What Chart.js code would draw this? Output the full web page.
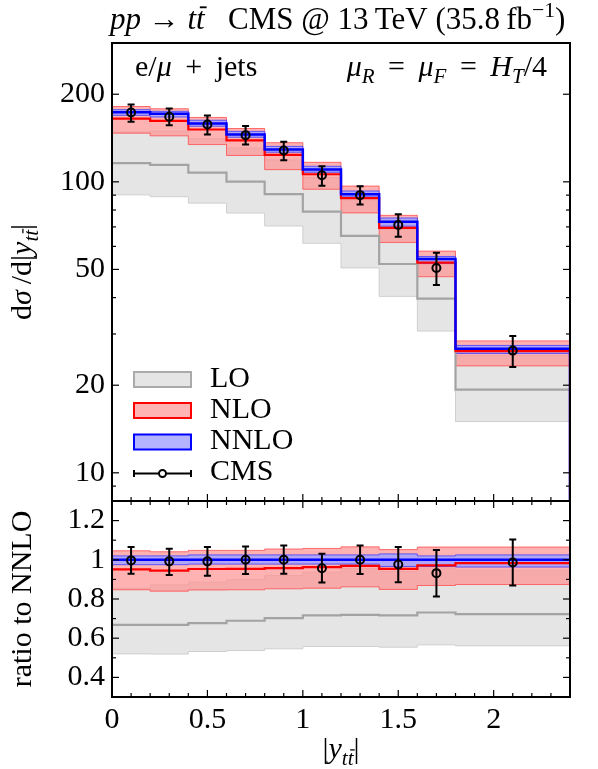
<!DOCTYPE html>
<html><head><meta charset="utf-8">
<script src="https://cdn.jsdelivr.net/npm/chart.js@4.4.1/dist/chart.umd.min.js"></script>
<style>
html,body{margin:0;padding:0;background:#fff;}
#wrap{position:relative;width:598px;height:769px;background:#fff;}
canvas{position:absolute;left:0;top:0;}
</style></head><body>
<div id="wrap"><canvas id="cTop" width="598" height="769"></canvas><canvas id="cBot" width="598" height="769"></canvas></div>
<script>
// ---------- data ----------
const binEdges = [0, 0.2, 0.4, 0.6, 0.8, 1.0, 1.2, 1.4, 1.6, 1.8, 2.4];
const cmsX = [0.1, 0.3, 0.5, 0.7, 0.9, 1.1, 1.3, 1.5, 1.7, 2.1];

// top panel: d sigma / d|y_ttbar|
const nnloCentral = [173.5, 171.3, 158.8, 145.5, 129.2, 110.3, 90.7, 72.9, 54.3, 26.7];
const nnloUpper   = [177.0, 174.7, 162.8, 149.1, 132.4, 113.1, 93.0, 75.1, 55.4, 27.4];
const nnloLower   = [169.2, 167.0, 155.3, 142.3, 126.4, 107.9, 88.7, 70.4, 52.5, 25.7];
const nloCentral  = [165.0, 161.9, 151.3, 138.8, 123.8, 106.2, 87.9, 69.5, 52.8, 26.2];
const nloUpper    = [181.5, 178.3, 166.4, 152.5, 136.3, 116.7, 96.7, 76.7, 57.8, 28.4];
const nloLower    = [147.0, 143.9, 134.3, 123.2, 110.1, 94.3, 78.2, 61.9, 47.2, 23.3];
const loCentral   = [115.9, 114.4, 107.5, 100.2, 90.7, 79.0, 65.2, 52.2, 39.7, 19.3];
const loUpper     = [148.3, 149.4, 140.7, 130.7, 118.9, 103.4, 86.6, 68.5, 52.0, 25.3];
const loLower     = [90.2, 88.9, 84.5, 78.1, 70.5, 61.5, 50.6, 40.4, 30.7, 15.0];
const cmsValue    = [173.2, 167.3, 157.5, 144.7, 128.2, 105.4, 90.0, 71.1, 50.6, 26.3];
const cmsLow      = [160.8, 156.6, 145.5, 134.4, 118.7, 96.9, 83.6, 64.7, 44.2, 23.1];
const cmsHigh     = [184.5, 178.7, 169.1, 155.4, 137.3, 113.2, 96.6, 77.4, 57.0, 29.5];

// bottom panel: ratio to NNLO
const ratioNnloCentral = [1, 1, 1, 1, 1, 1, 1, 1, 1, 1];
const ratioNnloUpper   = [1.02, 1.02, 1.025, 1.025, 1.025, 1.025, 1.025, 1.03, 1.02, 1.025];
const ratioNnloLower   = [0.975, 0.975, 0.978, 0.978, 0.978, 0.978, 0.978, 0.966, 0.966, 0.963];
const ratioNloCentral  = [0.951, 0.945, 0.953, 0.954, 0.958, 0.963, 0.969, 0.954, 0.972, 0.983];
const ratioNloUpper    = [1.046, 1.041, 1.048, 1.048, 1.055, 1.058, 1.066, 1.052, 1.065, 1.065];
const ratioNloLower    = [0.847, 0.84, 0.846, 0.847, 0.852, 0.855, 0.862, 0.849, 0.869, 0.874];
const ratioLoCentral   = [0.668, 0.668, 0.677, 0.689, 0.702, 0.716, 0.719, 0.716, 0.731, 0.723];
const ratioLoUpper     = [0.855, 0.872, 0.886, 0.898, 0.92, 0.937, 0.955, 0.94, 0.958, 0.947];
const ratioLoLower     = [0.52, 0.519, 0.532, 0.537, 0.546, 0.558, 0.558, 0.554, 0.566, 0.561];
const ratioCms         = [0.997, 0.992, 0.992, 1.0, 1.0, 0.957, 1.0, 0.976, 0.932, 0.986];
const ratioCmsLow      = [0.929, 0.923, 0.918, 0.927, 0.929, 0.884, 0.927, 0.886, 0.813, 0.869];
const ratioCmsHigh     = [1.065, 1.056, 1.065, 1.068, 1.073, 1.031, 1.073, 1.065, 1.05, 1.104];

// ticks
const xMajorTicks = [0, 0.5, 1, 1.5, 2];
const xMinorTicks = [0.1, 0.2, 0.3, 0.4, 0.6, 0.7, 0.8, 0.9, 1.1, 1.2, 1.3, 1.4, 1.6, 1.7, 1.8, 1.9, 2.1, 2.2, 2.3];
const yTopTicks = [9, 10, 20, 30, 40, 50, 60, 70, 80, 90, 100, 200];
const yTopLabels = [10, 20, 50, 100, 200];
const yRatioTicks = [0.4, 0.5, 0.6, 0.7, 0.8, 0.9, 1.0, 1.1, 1.2];
const yRatioLabels = [0.4, 0.6, 0.8, 1.0, 1.2];
const legendLabels = ['LO', 'NLO', 'NNLO', 'CMS'];

// ---------- helpers ----------
const FONT = '"Liberation Serif", "Times New Roman", serif';
const FS = 30;
Chart.defaults.font.family = FONT;

const GRAY_FILL = '#e5e5e5', GRAY_LINE = '#a3a3a3', GRAY_EDGE = '#cfcfcf';
const RED_FILL = 'rgba(255,145,145,0.70)', RED_LINE = '#ff0000', RED_EDGE = 'rgba(255,70,70,0.75)';
const BLUE_FILL = 'rgba(165,165,255,0.88)', BLUE_LINE = '#0000ff', BLUE_EDGE = 'rgba(60,60,255,0.8)';

function stepPts(vals, dropTo) {
  const pts = binEdges.map((e, i) => ({ x: e, y: vals[Math.min(i, vals.length - 1)] }));
  if (dropTo !== undefined) pts.push({ x: binEdges[binEdges.length - 1], y: dropTo });
  return pts;
}
function lineDs(data, color, width, order, fill, bg) {
  return { data, borderColor: color, borderWidth: width, pointRadius: 0, stepped: true,
           fill: fill || false, backgroundColor: bg || 'transparent', order };
}
function fontFor(r, size) {
  const fs = (r.sub || r.sup) ? size * 0.7 : size;
  return (r.it ? 'italic ' : '') + fs + 'px ' + FONT;
}
function drawRich(ctx, runs, x, y, size, align, rot) {
  ctx.save();
  ctx.translate(x, y);
  if (rot) ctx.rotate(rot);
  let w = 0;
  runs.forEach(r => { ctx.font = fontFor(r, size); w += ctx.measureText(r.t).width; });
  let cx = align === 'center' ? -w / 2 : (align === 'right' ? -w : 0);
  ctx.fillStyle = '#000'; ctx.strokeStyle = '#000';
  ctx.textBaseline = 'alphabetic'; ctx.textAlign = 'left';
  runs.forEach(r => {
    ctx.font = fontFor(r, size);
    const fs = (r.sub || r.sup) ? size * 0.7 : size;
    const dy = r.sub ? size * 0.22 : (r.sup ? -size * 0.38 : 0);
    ctx.fillText(r.t, cx, dy);
    const tw = ctx.measureText(r.t).width;
    if (r.bar) {
      ctx.beginPath(); ctx.lineWidth = Math.max(1, fs * 0.06);
      ctx.moveTo(cx + fs * 0.12, dy - fs * 0.7); ctx.lineTo(cx + tw + fs * 0.06, dy - fs * 0.7); ctx.stroke();
    }
    cx += tw;
  });
  ctx.restore();
}
function near(list, v) { return list.some(t => Math.abs(t - v) < 1e-6); }

function frameTicksPlugin(cfg) {
  return {
    id: 'frameTicks',
    afterDraw(chart) {
      const { ctx, chartArea: a, scales } = chart;
      const xs = scales.x, ys = scales.y;
      ctx.save();
      ctx.strokeStyle = '#000'; ctx.lineWidth = 1.2;
      const seg = (x1, y1, x2, y2) => { ctx.beginPath(); ctx.moveTo(x1, y1); ctx.lineTo(x2, y2); ctx.stroke(); };
      xMajorTicks.concat(xMinorTicks).forEach(v => {
        const px = xs.getPixelForValue(v);
        const L = near(xMajorTicks, v) ? 7 : 4;
        if (cfg.xBottom) seg(px, a.bottom, px, a.bottom - L);
        if (cfg.xTop) seg(px, a.top, px, a.top + L);
      });
      cfg.yTicks.forEach(v => {
        const py = ys.getPixelForValue(v);
        const L = near(cfg.yLabels, v) ? 7 : 4;
        seg(a.left, py, a.left + L, py);
        seg(a.right, py, a.right - L, py);
      });
      ctx.lineWidth = 2;
      ctx.strokeRect(a.left, a.top, a.right - a.left, a.bottom - a.top);
      ctx.restore();
    }
  };
}
function errorBarPlugin(xv, lo, hi) {
  return {
    id: 'errBars',
    afterDatasetsDraw(chart) {
      const { ctx, scales } = chart;
      ctx.save();
      ctx.strokeStyle = '#000'; ctx.lineWidth = 2;
      xv.forEach((x, i) => {
        const px = scales.x.getPixelForValue(x);
        const y1 = scales.y.getPixelForValue(lo[i]), y2 = scales.y.getPixelForValue(hi[i]);
        ctx.beginPath();
        ctx.moveTo(px, y1); ctx.lineTo(px, y2);
        ctx.moveTo(px - 3.5, y1); ctx.lineTo(px + 3.5, y1);
        ctx.moveTo(px - 3.5, y2); ctx.lineTo(px + 3.5, y2);
        ctx.stroke();
      });
      ctx.restore();
    }
  };
}

// ---------- top chart ----------
const SP = '\u2009';
const topTextPlugin = {
  id: 'topText',
  afterDraw(chart) {
    const ctx = chart.ctx;
    // title
    drawRich(ctx, [{ t: 'pp', it: 1 }, { t: ' \u2192 ' }, { t: 't', it: 1 }, { t: 't', it: 1, bar: 1 },
      { t: '   CMS @ 13\u2009TeV (35.8\u2009fb' }, { t: '\u22121', sup: 1 }, { t: ')' }], 110, 29, 31, 'left');
    drawRich(ctx, [{ t: 'e/' }, { t: '\u03bc', it: 1 }, { t: ' ' + SP + '+' + SP + ' jets' }], 135, 76, FS, 'left');
    drawRich(ctx, [{ t: '\u03bc', it: 1 }, { t: 'R', it: 1, sub: 1 }, { t: ' ' + SP + '=' + SP + ' ' }, { t: '\u03bc', it: 1 }, { t: 'F', it: 1, sub: 1 },
      { t: ' ' + SP + '=' + SP + ' ' }, { t: 'H', it: 1 }, { t: 'T', it: 1, sub: 1 }, { t: '/4' }], 547, 76, FS, 'right');
    // y title
    drawRich(ctx, [{ t: 'd' }, { t: '\u03c3', it: 1 }, { t: '\u2009/d|' }, { t: 'y', it: 1 }, { t: 't', it: 1, sub: 1 },
      { t: 't', it: 1, sub: 1, bar: 1 }, { t: '|' }], 31, 272, FS, 'center', -Math.PI / 2);
    // legend
    ctx.save();
    const boxes = [[GRAY_FILL, '#aaaaaa'], ['#ffb3b3', '#ff0000'], ['#b3b3ff', '#0000ff']];
    const boxY = [372, 403, 434.5];
    boxes.forEach((b, i) => {
      ctx.fillStyle = b[0]; ctx.fillRect(134, boxY[i], 57, 15);
      ctx.strokeStyle = b[1]; ctx.lineWidth = 2; ctx.strokeRect(134, boxY[i], 57, 15);
    });
    ctx.strokeStyle = '#000'; ctx.lineWidth = 2;
    ctx.beginPath(); ctx.moveTo(134, 473.5); ctx.lineTo(191, 473.5);
    ctx.moveTo(134, 470); ctx.lineTo(134, 477); ctx.moveTo(191, 470); ctx.lineTo(191, 477); ctx.stroke();
    ctx.fillStyle = '#fff'; ctx.beginPath(); ctx.arc(162.5, 473.5, 3.5, 0, Math.PI * 2); ctx.fill(); ctx.stroke();
    ctx.restore();
    const base = [387, 418, 449, 480];
    legendLabels.forEach((l, i) => drawRich(ctx, [{ t: l }], 210, base[i], FS, 'left'));
  }
};

new Chart(document.getElementById('cTop'), {
  type: 'line',
  data: {
    datasets: [
      lineDs(stepPts(loUpper), GRAY_EDGE, 1, 9.5, '+1', GRAY_FILL),
      lineDs(stepPts(loLower), GRAY_EDGE, 1, 9),
      lineDs(stepPts(nloUpper), RED_EDGE, 1, 8.5, '+1', RED_FILL),
      lineDs(stepPts(nloLower), RED_EDGE, 1, 8),
      lineDs(stepPts(nnloUpper), BLUE_EDGE, 1, 7.5, '+1', BLUE_FILL),
      lineDs(stepPts(nnloLower), BLUE_EDGE, 1, 7),
      lineDs(stepPts(loCentral, 1), GRAY_LINE, 2.2, 3),
      lineDs(stepPts(nloCentral, 1), RED_LINE, 2.2, 2),
      lineDs(stepPts(nnloCentral, 1), BLUE_LINE, 2.5, 1),
      { type: 'scatter', data: cmsX.map((x, i) => ({ x, y: cmsValue[i] })), pointRadius: 4, borderWidth: 2,
        borderColor: '#000', backgroundColor: 'rgba(0,0,0,0)', showLine: false, order: 0 }
    ]
  },
  options: {
    responsive: false, animation: false, events: [],
    layout: { padding: { top: 43, bottom: 268, left: 0, right: 28 } },
    plugins: { legend: { display: false }, tooltip: { enabled: false } },
    scales: {
      x: { type: 'linear', min: 0, max: 2.4, display: false },
      y: { type: 'logarithmic', min: 8, max: 300, bounds: 'data',
        afterBuildTicks: s => { s.ticks = yTopTicks.map(v => ({ value: v })); },
        afterFit: s => { s.width = 112; },
        grid: { display: false, drawTicks: false }, border: { display: false },
        ticks: { font: { family: FONT, size: FS }, color: '#000', padding: 7, autoSkip: false, maxRotation: 0,
          callback: v => near(yTopLabels, v) ? String(v) : '' } }
    }
  },
  plugins: [frameTicksPlugin({ xBottom: true, xTop: false, yTicks: yTopTicks, yLabels: yTopLabels }),
            errorBarPlugin(cmsX, cmsLow, cmsHigh), topTextPlugin]
});

// ---------- ratio chart ----------
const botTextPlugin = {
  id: 'botText',
  afterDraw(chart) {
    const ctx = chart.ctx;
    drawRich(ctx, [{ t: 'ratio to NNLO' }], 31, 599, FS, 'center', -Math.PI / 2);
    drawRich(ctx, [{ t: '|' }, { t: 'y', it: 1 }, { t: 't', it: 1, sub: 1 }, { t: 't', it: 1, sub: 1, bar: 1 }, { t: '|' }],
      341, 758, FS, 'center');
  }
};

new Chart(document.getElementById('cBot'), {
  type: 'line',
  data: {
    datasets: [
      lineDs(stepPts(ratioLoUpper), GRAY_EDGE, 1, 9.5, '+1', GRAY_FILL),
      lineDs(stepPts(ratioLoLower), GRAY_EDGE, 1, 9),
      lineDs(stepPts(ratioNloUpper), RED_EDGE, 1, 8.5, '+1', RED_FILL),
      lineDs(stepPts(ratioNloLower), RED_EDGE, 1, 8),
      lineDs(stepPts(ratioNnloUpper), BLUE_EDGE, 1, 7.5, '+1', BLUE_FILL),
      lineDs(stepPts(ratioNnloLower), BLUE_EDGE, 1, 7),
      lineDs(stepPts(ratioLoCentral), GRAY_LINE, 2.2, 3),
      lineDs(stepPts(ratioNloCentral), RED_LINE, 2.2, 2),
      lineDs(stepPts(ratioNnloCentral), BLUE_LINE, 2.5, 1),
      { type: 'scatter', data: cmsX.map((x, i) => ({ x, y: ratioCms[i] })), pointRadius: 4, borderWidth: 2,
        borderColor: '#000', backgroundColor: 'rgba(0,0,0,0)', showLine: false, order: 0 }
    ]
  },
  options: {
    responsive: false, animation: false, events: [],
    layout: { padding: { top: 501, bottom: 0, left: 0, right: 28 } },
    plugins: { legend: { display: false }, tooltip: { enabled: false } },
    scales: {
      x: { type: 'linear', min: 0, max: 2.4, bounds: 'data',
        afterBuildTicks: s => { s.ticks = xMajorTicks.map(v => ({ value: v })); },
        afterFit: s => { s.height = 72; },
        grid: { display: false, drawTicks: false }, border: { display: false },
        ticks: { font: { family: FONT, size: FS }, color: '#000', padding: 5, autoSkip: false, maxRotation: 0,
          callback: v => String(v) } },
      y: { type: 'linear', min: 0.3, max: 1.3, bounds: 'data',
        afterBuildTicks: s => { s.ticks = yRatioTicks.map(v => ({ value: v })); },
        afterFit: s => { s.width = 112; },
        grid: { display: false, drawTicks: false }, border: { display: false },
        ticks: { font: { family: FONT, size: FS }, color: '#000', padding: 7, autoSkip: false, maxRotation: 0,
          callback: v => near(yRatioLabels, v) ? String(Math.round(v * 10) / 10) : '' } }
    }
  },
  plugins: [frameTicksPlugin({ xBottom: true, xTop: true, yTicks: yRatioTicks, yLabels: yRatioLabels }),
            errorBarPlugin(cmsX, ratioCmsLow, ratioCmsHigh), botTextPlugin]
});
</script>
</body></html>
